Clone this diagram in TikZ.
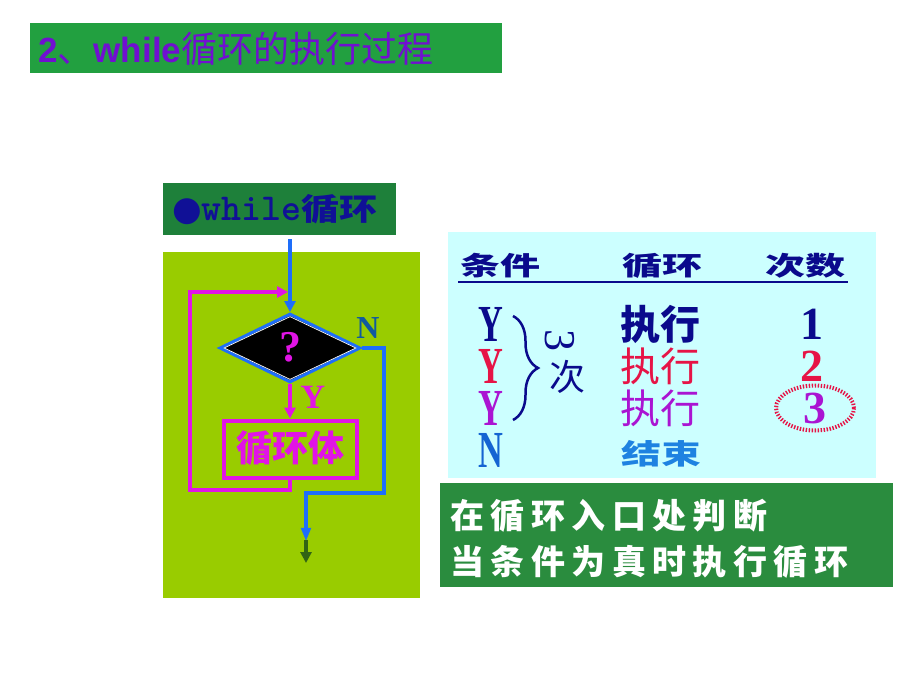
\documentclass[tikz,border=0pt]{standalone}
\usepackage{fontspec}
\usepackage{graphicx}
\usetikzlibrary{shapes.geometric,arrows.meta,decorations.pathreplacing,calc}
\newfontfamily\cjk{Noto Sans CJK SC}
\newfontfamily\arb{Liberation Sans}
\newfontfamily\tms{Liberation Serif}
\newfontfamily\dvs{DejaVu Sans}
\newcommand\fsz[1]{\fontsize{#1}{#1}\selectfont}
\newcommand\cy[1]{\scalebox{0.66}[1]{#1}}
\definecolor{titlebg}{RGB}{34,160,64}
\definecolor{titletxt}{RGB}{112,16,208}
\definecolor{whilebg}{RGB}{30,128,58}
\definecolor{whiletxt}{RGB}{16,16,150}
\definecolor{olive}{RGB}{153,204,0}
\definecolor{cyanbg}{RGB}{204,255,255}
\definecolor{bottombg}{RGB}{42,140,62}
\definecolor{arrowblue}{RGB}{30,110,250}
\definecolor{magln}{RGB}{225,20,230}
\definecolor{navy}{RGB}{10,10,140}
\definecolor{crimson}{RGB}{230,20,70}
\definecolor{violetc}{RGB}{170,20,210}
\definecolor{nblue}{RGB}{20,100,210}
\definecolor{endblue}{RGB}{30,130,225}
\definecolor{dkgreen}{RGB}{50,100,20}
\definecolor{nlab}{RGB}{16,90,160}
\begin{document}
\begin{tikzpicture}[x=1pt,y=-1pt,
  panel/.style={inner sep=0pt,outer sep=0pt,anchor=north west},
  blueln/.style={draw=arrowblue,line width=4pt},
  magline/.style={draw=magln,line width=4pt},
  tip/.style={-{Triangle[width=11pt,length=11pt]}},
  cell/.style={inner sep=0pt}]
\useasboundingbox (0,0) rectangle (920,690);
% title
\node[panel,fill=titlebg,minimum width=472pt,minimum height=50pt] (titlebar) at (30,23) {};
\node[anchor=west,inner sep=0pt,text=titletxt] (title) at (38,49)
  {{\arb\bfseries\fsz{35}2}{\cjk\fsz{36}、}{\arb\bfseries\fsz{35}while}{\cjk\fsz{36}循环的执行过程}};
% while box
\node[panel,fill=whilebg,minimum width=233pt,minimum height=52pt] (whilebox) at (163,183) {};
\node[anchor=west,inner sep=0pt,text=whiletxt] (whiletxt) at (172,210)
  {{\dvs\fsz{34}●}{\ttfamily\bfseries\fsz{38}while}{\cjk\bfseries\fsz{38}\scalebox{1}[0.8]{循环}}};
% olive panel
\node[panel,fill=olive,minimum width=257pt,minimum height=346pt] (olivep) at (163,252) {};
% flowchart
\node[diamond,draw=arrowblue,line width=3pt,fill=black,minimum width=141pt,minimum height=69pt,inner sep=0pt] (dec) at (290,348) {};
\node[diamond,draw=white,line width=0.7pt,minimum width=132pt,minimum height=63pt,inner sep=0pt] (decin) at (290,348) {};
\node[cell,text=magln] (qm) at (290,347) {\tms\bfseries\fsz{44}?};
\node[draw=magln,line width=4pt,minimum width=133pt,minimum height=57pt,inner sep=0pt] (body) at (290,449) {};
\node[cell,text=magln] (bodytxt) at (290,448) {\cjk\bfseries\fsz{36}循环体};
\node[cell,text=magln] (ylab) at (313,397) {\tms\bfseries\fsz{34}Y};
\node[cell,text=nlab] (nlab) at (368,328) {\tms\bfseries\fsz{32}N};
\coordinate (entry) at (290,239);
\coordinate (lpA) at (190,490);
\coordinate (lpB) at (190,292);
\coordinate (lpC) at (288,292);
\coordinate (nA) at (384,348);
\coordinate (nB) at (384,493);
\coordinate (nC) at (306,493);
\coordinate (nD) at (306,540);
\coordinate (nE) at (306,563);
\draw[blueln,tip] (entry) -- (dec.north);
\draw[magline,tip] (dec.south) -- (body.north);
\draw[magline,tip] (body.south) |- (lpA) -- (lpB) -- (lpC);
\draw[blueln,line join=miter] (dec.east) -- (nA) -- (nB) -- (nC) -- ($(nD)+(0,-9)$);
\draw[draw=arrowblue,fill=arrowblue] ($(nD)+(-5,-12)$) -- ($(nD)+(5,-12)$) -- (nD) -- cycle;
\draw[draw=dkgreen,line width=4pt,-{Triangle[width=11pt,length=11pt]}] (nD) -- (nE);
% right table
\node[panel,fill=cyanbg,minimum width=428pt,minimum height=246pt] (tablep) at (448,232) {};
\node[cell,text=navy] (h1) at (500,266) {\cjk\bfseries\fsz{40}\scalebox{1}[0.65]{条件}};
\node[cell,text=navy] (h2) at (662,266) {\cjk\bfseries\fsz{40}\scalebox{1}[0.65]{循环}};
\node[cell,text=navy] (h3) at (805,266) {\cjk\bfseries\fsz{40}\scalebox{1}[0.65]{次数}};
\coordinate (ulA) at (458,282);
\coordinate (ulB) at (848,282);
\draw[navy,line width=2pt] (ulA) -- (ulB);
\node[cell,align=center,anchor=north,font=\tms\bfseries\fontsize{52}{42}\selectfont] (ycol) at (491,307)
  {\textcolor{navy}{\cy{Y}}\\\textcolor{crimson}{\cy{Y}}\\\textcolor{violetc}{\cy{Y}}\\\textcolor{nblue}{\cy{N}}};
\node[cell,text=navy] (e1) at (660,324) {\cjk\bfseries\fsz{40}执行};
\node[cell,text=crimson] (e2) at (660,366) {\cjk\fsz{40}执行};
\node[cell,text=violetc] (e3) at (660,408) {\cjk\fsz{40}执行};
\node[cell,text=endblue] (e4) at (661,454) {\cjk\bfseries\fsz{40}\scalebox{1}[0.7]{结束}};
\node[cell,text=navy] (c1) at (812,324) {\tms\bfseries\fsz{46}1};
\node[cell,text=crimson] (c2) at (812,366) {\tms\bfseries\fsz{46}2};
\node[cell,text=violetc] (c3) at (815,408) {\tms\bfseries\fsz{46}3};
\node[ellipse,draw=crimson,line width=4pt,dash pattern=on 1.4pt off 1.6pt,minimum width=78pt,minimum height=45pt,inner sep=0pt] (ring) at (815,408) {};
\coordinate (brA) at (513,316);
\coordinate (brB) at (513,420);
\draw[navy,line width=2.5pt,decorate,decoration={brace,amplitude=25pt,aspect=0.5}] (brA) -- (brB);
\node[cell,text=navy,rotate=-90] (three) at (560,340) {\tms\fsz{44}3};
\node[cell,text=navy] (ci) at (567,377) {\cjk\fsz{36}次};
% bottom box
\node[panel,fill=bottombg,minimum width=453pt,minimum height=104pt] (botp) at (440,483) {};
\node[anchor=west,inner sep=0pt,text=white] (b1) at (450,516)
  {\cjk\bfseries\fsz{34}\addfontfeatures{LetterSpace=19}在循环入口处判断};
\node[anchor=west,inner sep=0pt,text=white] (b2) at (450,562)
  {\cjk\bfseries\fsz{34}\addfontfeatures{LetterSpace=19}当条件为真时执行循环};
\end{tikzpicture}
\end{document}
